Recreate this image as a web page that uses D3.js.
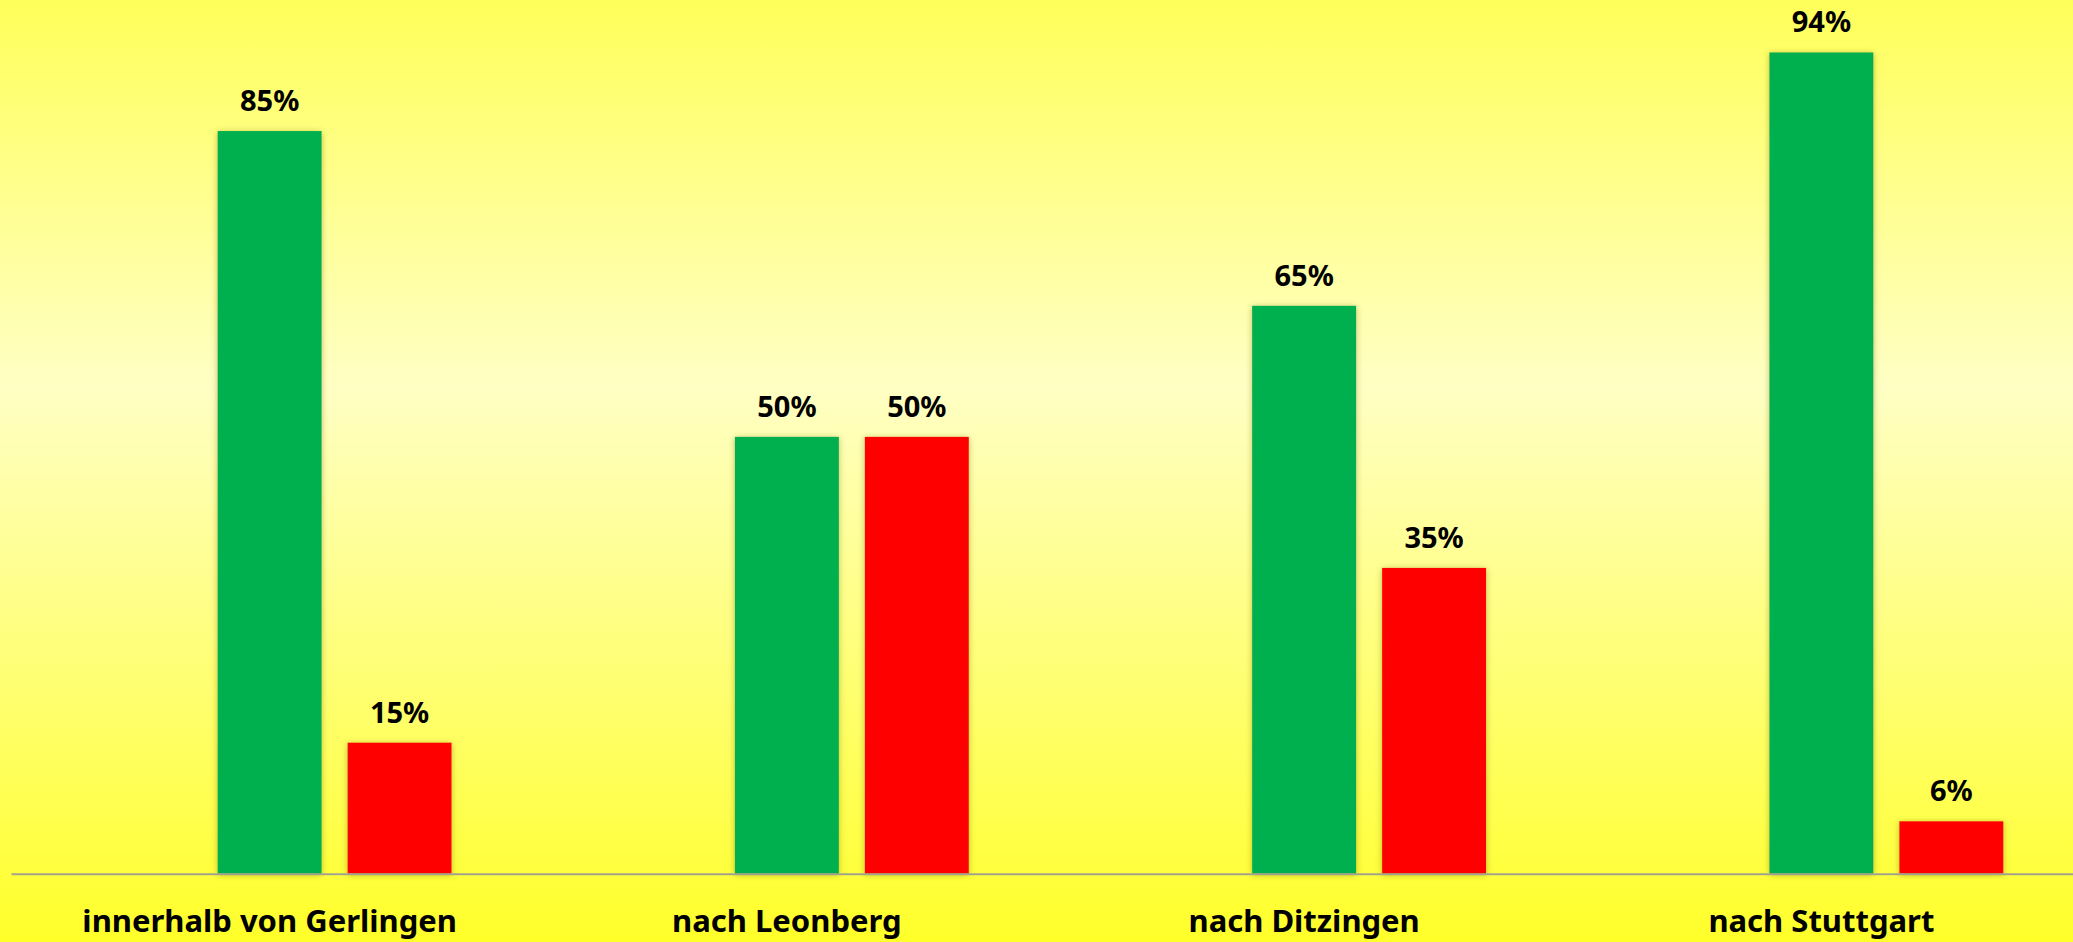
<!DOCTYPE html>
<html>
<head>
<meta charset="utf-8">
<script src="https://cdn.jsdelivr.net/npm/d3@7"></script>
<style>
  html, body { margin: 0; padding: 0; overflow: hidden; }
  svg { display: block; }
  .label { font-family: "Noto Sans", "Open Sans", sans-serif; font-weight: bold; fill: #000; }
</style>
</head>
<body>
<div id="chart"></div>
<script>
// categories and series
const categories = ["innerhalb von Gerlingen", "nach Leonberg", "nach Ditzingen", "nach Stuttgart"];
const greenValues = [85, 50, 65, 94];
const redValues = [15, 50, 35, 6];
// slots inside each category (the first one is an empty placeholder)
const slots = ["leer", "gruen", "rot"];
const slotColors = { gruen: "#00b050", rot: "#ff0000" };

const W = 2073, H = 942;
const margin = { top: 0, right: -7, bottom: 68, left: 11 };

const svg = d3.select("#chart").append("svg")
  .attr("width", W)
  .attr("height", H);

const defs = svg.append("defs");
const grad = defs.append("linearGradient")
  .attr("id", "bg").attr("x1", 0).attr("y1", 0).attr("x2", 0).attr("y2", 1);
grad.append("stop").attr("offset", "0%").attr("stop-color", "#ffff5a");
grad.append("stop").attr("offset", "41%").attr("stop-color", "#ffffc4");
grad.append("stop").attr("offset", "100%").attr("stop-color", "#ffff2a");

const shadow = defs.append("filter").attr("id", "shadow")
  .attr("x", "-20%").attr("y", "-5%").attr("width", "140%").attr("height", "115%");
shadow.append("feDropShadow")
  .attr("dx", 0).attr("dy", 1).attr("stdDeviation", 3)
  .attr("flood-color", "#6b6b00").attr("flood-opacity", 0.45);

svg.append("rect").attr("width", W).attr("height", H).attr("fill", "url(#bg)");

const baseY = 873.7;
const x0 = d3.scaleBand().domain(categories).range([margin.left, W - margin.right]).padding(0);
const x1 = d3.scaleBand().domain(slots).range([0, x0.bandwidth()]).paddingInner(0.2).paddingOuter(0.59);
const y = d3.scaleLinear().domain([0, 100]).range([baseY, 0]);

const rows = categories.map((c, i) => ({
  cat: c,
  values: [{ key: "gruen", v: greenValues[i] }, { key: "rot", v: redValues[i] }]
}));

const groups = svg.selectAll(".group").data(rows).enter().append("g")
  .attr("class", "group")
  .attr("transform", d => `translate(${x0(d.cat)},0)`);

groups.selectAll("rect").data(d => d.values).enter().append("rect")
  .attr("x", d => x1(d.key))
  .attr("y", d => y(d.v))
  .attr("width", x1.bandwidth())
  .attr("height", d => baseY - y(d.v))
  .attr("fill", d => slotColors[d.key])
  .attr("filter", "url(#shadow)");

groups.selectAll("text.val").data(d => d.values).enter().append("text")
  .attr("class", "label val")
  .attr("x", d => x1(d.key) + x1.bandwidth() / 2)
  .attr("y", d => y(d.v) - 20)
  .attr("text-anchor", "middle")
  .style("font-size", "29px")
  .text(d => d.v + "%");

// axis line and category labels
const xAxis = svg.append("g")
  .attr("transform", `translate(0,${baseY})`)
  .call(d3.axisBottom(x0).tickSize(0).tickPadding(36));
xAxis.select(".domain").attr("stroke", "#a3a28e").attr("stroke-width", 2);
xAxis.selectAll("text")
  .attr("class", "label")
  .attr("dy", "0.71em")
  .style("font-size", "31px");
</script>
</body>
</html>
